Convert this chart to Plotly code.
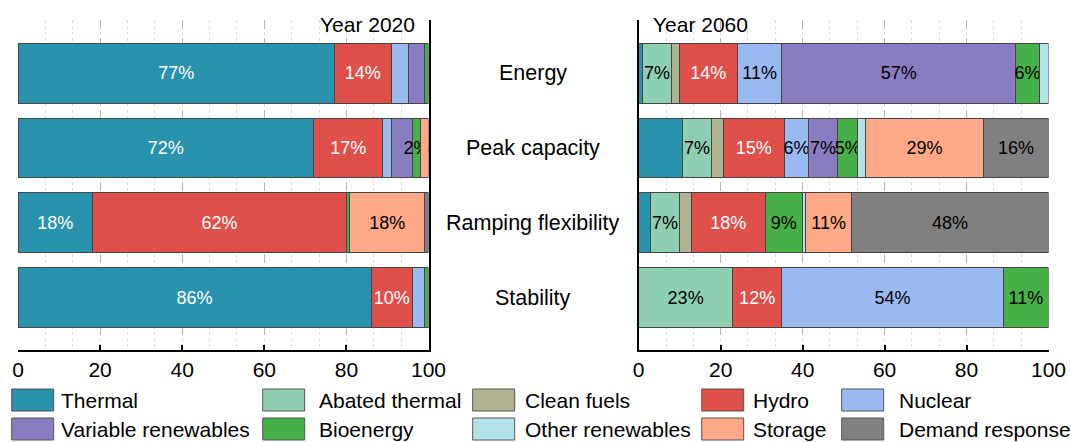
import plotly.graph_objects as go

W, H = 1071, 442

categories = ["Energy", "Peak capacity", "Ramping flexibility", "Stability"]
sources = ["Thermal", "Abated thermal", "Clean fuels", "Hydro", "Nuclear",
           "Variable renewables", "Bioenergy", "Other renewables", "Storage",
           "Demand response"]
colors = ["#2992ad", "#8fcfb1", "#b0b48e", "#df504a", "#9ab9f0",
          "#8a7cc0", "#48b048", "#b4e2ea", "#fda886", "#808080"]
text_colors = ["white", "black", "black", "white", "black",
               "black", "black", "black", "black", "black"]

# Shares (%) per source, ordered as categories: Energy, Peak, Ramping, Stability
thermal_2020 = [77.1, 72.0, 18.2, 86.0]
abated_2020 = [0, 0, 0, 0]
cleanfuel_2020 = [0, 0, 0, 0]
hydro_2020 = [13.8, 16.9, 61.8, 10.1]
nuclear_2020 = [4.2, 2.0, 0, 2.9]
vre_2020 = [3.9, 5.2, 0, 0]
bio_2020 = [1.0, 1.9, 0.8, 1.0]
otherren_2020 = [0, 0, 0, 0]
storage_2020 = [0, 2.0, 18.3, 0]
demand_2020 = [0, 0, 0.9, 0]

thermal_2060 = [1.0, 10.7, 2.9, 0]
abated_2060 = [6.9, 7.0, 7.0, 22.9]
cleanfuel_2060 = [2.0, 2.9, 2.9, 0]
hydro_2060 = [14.2, 14.9, 18.1, 12.0]
nuclear_2060 = [10.8, 6.0, 0, 54.1]
vre_2060 = [57.1, 7.0, 0, 0]
bio_2060 = [5.8, 5.0, 9.0, 11.0]
otherren_2060 = [2.2, 1.9, 0.9, 0]
storage_2060 = [0, 28.7, 11.1, 0]
demand_2060 = [0, 15.9, 48.1, 0]

# Segments that carry a percentage label
labeled_2020 = {
    "Energy": ["Thermal", "Hydro"],
    "Peak capacity": ["Thermal", "Hydro", "Bioenergy"],
    "Ramping flexibility": ["Thermal", "Hydro", "Storage"],
    "Stability": ["Thermal", "Hydro"],
}
labeled_2060 = {
    "Energy": ["Abated thermal", "Hydro", "Nuclear", "Variable renewables", "Bioenergy"],
    "Peak capacity": ["Abated thermal", "Hydro", "Nuclear", "Variable renewables",
                      "Bioenergy", "Storage", "Demand response"],
    "Ramping flexibility": ["Abated thermal", "Hydro", "Bioenergy", "Storage",
                            "Demand response"],
    "Stability": ["Abated thermal", "Hydro", "Nuclear", "Bioenergy"],
}

shares_2020 = [thermal_2020, abated_2020, cleanfuel_2020, hydro_2020, nuclear_2020,
               vre_2020, bio_2020, otherren_2020, storage_2020, demand_2020]
shares_2060 = [thermal_2060, abated_2060, cleanfuel_2060, hydro_2060, nuclear_2060,
               vre_2060, bio_2060, otherren_2060, storage_2060, demand_2060]

FONT = "Liberation Sans, Arial, sans-serif"

fig = go.Figure()


def add_panel(shares, labeled, xa, ya):
    for src, vals, col, tcol in zip(sources, shares, colors, text_colors):
        xs = [v if v > 0 else None for v in vals]
        texts = [f"{round(v)}%" if (v > 0 and src in labeled[c]) else ""
                 for v, c in zip(vals, categories)]
        fig.add_trace(go.Bar(
            y=categories, x=xs, orientation="h", name=src,
            marker=dict(color=col, line=dict(color="#454545", width=1)),
            width=0.8, text=texts, textposition="inside", textangle=0,
            insidetextanchor="middle", constraintext="none",
            textfont=dict(color=tcol, size=18, family=FONT),
            xaxis=xa, yaxis=ya, showlegend=False, hoverinfo="x+name",
        ))


add_panel(shares_2020, labeled_2020, "x", "y")
add_panel(shares_2060, labeled_2060, "x2", "y2")

plot_top, plot_bot = 20, 350
ydom = [1 - plot_bot / H, 1 - plot_top / H]

xaxis_common = dict(
    range=[0, 100], tickvals=[0, 20, 40, 60, 80, 100],
    ticks="inside", ticklen=5, tickwidth=1.5, tickcolor="black",
    showline=True, linecolor="black", linewidth=2,
    showgrid=True, gridcolor="#b8b8b8", griddash="dash", gridwidth=1,
    minor=dict(dtick=20 / 3, tick0=0, showgrid=True, gridcolor="#dedede",
               griddash="dot", gridwidth=1),
    zeroline=False, tickfont=dict(size=21, family=FONT, color="black"),
    fixedrange=True, automargin=False,
)
yaxis_common = dict(
    type="category", categoryorder="array", categoryarray=categories,
    range=[3.7, -0.71], showticklabels=False, ticks="",
    showline=True, linecolor="black", linewidth=2, showgrid=False,
    zeroline=False, fixedrange=True, automargin=False,
)

fig.update_layout(
    width=W, height=H, margin=dict(l=0, r=0, t=0, b=0, autoexpand=False),
    paper_bgcolor="white", plot_bgcolor="white",
    barmode="stack", bargap=0.2,
    font=dict(family=FONT, size=21, color="black"),
    uniformtext=dict(minsize=18, mode="show"),
    xaxis=dict(domain=[18 / W, 428.5 / W], anchor="y", **xaxis_common),
    yaxis=dict(domain=ydom, anchor="x", side="right", **yaxis_common),
    xaxis2=dict(domain=[638.7 / W, 1048.5 / W], anchor="y2", **xaxis_common),
    yaxis2=dict(domain=ydom, anchor="x2", side="left", **yaxis_common),
    showlegend=False,
)

annotations = []
# Panel titles
annotations.append(dict(text="Year 2020", xref="paper", yref="paper",
                        x=417 / W, y=1 - 24 / H, xanchor="right", yanchor="middle",
                        showarrow=False, font=dict(size=21)))
annotations.append(dict(text="Year 2060", xref="paper", yref="paper",
                        x=651 / W, y=1 - 24 / H, xanchor="left", yanchor="middle",
                        showarrow=False, font=dict(size=21)))
# Category names between the panels
for c in categories:
    annotations.append(dict(text=c, xref="paper", yref="y", x=532.5 / W, y=c,
                            xanchor="center", yanchor="middle", showarrow=False,
                            font=dict(size=21.5)))

# Legend: 2 rows x 5 columns of swatches with labels
swatch_left = [11.7, 262.7, 472.7, 701.7, 841.7]
label_left = [58.5, 316.5, 523, 751, 896.5]
row_y = [400, 429]
sw_w, sw_h = 42, 22
shapes = []
for i, (src, col) in enumerate(zip(sources, colors)):
    r, k = divmod(i, 5)
    x0 = swatch_left[k]
    yc = row_y[r]
    shapes.append(dict(type="rect", xref="paper", yref="paper",
                       x0=x0 / W, x1=(x0 + sw_w) / W,
                       y0=1 - (yc + sw_h / 2) / H, y1=1 - (yc - sw_h / 2) / H,
                       fillcolor=col, line=dict(color="#555555", width=1)))
    annotations.append(dict(text=src, xref="paper", yref="paper",
                            x=label_left[k] / W, y=1 - yc / H,
                            xanchor="left", yanchor="middle", showarrow=False,
                            font=dict(size=21)))

fig.update_layout(annotations=annotations, shapes=shapes)

fig.write_html("out.html")
